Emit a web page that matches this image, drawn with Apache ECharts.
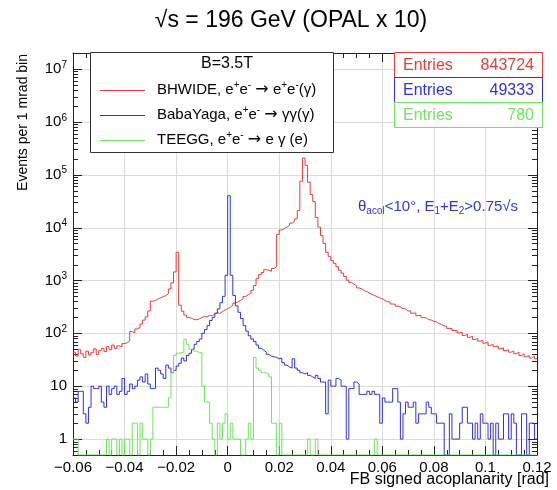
<!DOCTYPE html>
<html>
<head>
<meta charset="utf-8">
<script src="https://cdn.jsdelivr.net/npm/echarts@6/dist/echarts.min.js"></script>
<style>
  html, body { margin: 0; padding: 0; background: #fff; }
  #chart { width: 557px; height: 490px; }
</style>
</head>
<body>
<div id="chart"></div>
<script>
// Histogram binning: 1 mrad bins starting at -60 mrad
const BIN_LOW_MRAD = -60;
const BIN_WIDTH_MRAD = 1;

// BHWIDE, e+e- -> e+e-(gamma): events per bin, bins -60 .. 119 mrad
const bhwide = [
  44, 37, 49, 41, 35, 46, 39, 43, 51, 40,
  47, 52, 45, 56, 49, 60, 52, 58, 55, 64,
  66, 72, 108, 102, 121, 128, 150, 178, 205, 265,
  405, 418, 446, 470, 492, 515, 560, 690, 900, 1450,
  3400, 340, 262, 222, 200, 192, 184, 180, 188, 198,
  210, 204, 218, 214, 232, 244, 238, 258, 276, 292,
  310, 338, 372, 392, 418, 452, 498, 538, 580, 652,
  800, 1080, 1290, 1410, 1600, 1560, 1490, 1680, 1820, 7400,
  9000, 9600, 10200, 11000, 12100, 13200, 14600, 21000, 75000, 205000,
  150000, 72000, 42000, 31000, 15500, 10200, 7100, 5000, 3400, 2850,
  2380, 2100, 1820, 1560, 1380, 1190, 1010, 920, 850, 790,
  722, 695, 640, 615, 578, 545, 520, 492, 468, 452,
  420, 398, 392, 358, 356, 326, 316, 294, 288, 264,
  266, 240, 242, 216, 218, 198, 196, 182, 178, 168,
  164, 152, 148, 138, 136, 123, 124, 113, 112, 102,
  104, 91, 96, 84, 88, 76, 80, 71, 74, 65,
  69, 59, 62, 56, 57, 51, 53, 47, 49, 44,
  46, 41, 44, 38, 41, 36, 38, 34, 37, 33
];

// BabaYaga, e+e- -> gamma gamma(gamma)
const babayaga = [
  6, 5, 8, 8, 3, 2, 4, 10, 9, 9,
  10, 5, 4, 10, 7, 9, 10, 7, 8, 14,
  7, 8, 11, 9, 10, 13, 15, 12, 17, 11,
  9, 9, 22, 20, 17, 14, 25, 22, 18, 20,
  24, 27, 34, 30, 38, 42, 50, 62, 70, 78,
  100, 118, 140, 175, 200, 240, 290, 380, 500, 1250,
  40000, 1250, 520, 330, 250, 190, 140, 110, 90, 78,
  70, 60, 52, 48, 44, 40, 37, 36, 35, 33,
  34, 28, 25, 23, 22, 33, 22, 20, 18, 17,
  18, 16, 15, 14, 16, 14, 12, 12, 3, 13,
  10, 10, 14, 13, 10, 10, 1, 9, 9, 12,
  11, 7, 7, 7, 8, 7, 8, 7, 7, 2,
  6, 5, 5, 5, 9, 9, 5, 1, 3, 5,
  4, 4, 5, 2, 3, 3, 3, 5, 4, 3,
  3, 2, 2, 2, 0, 0, 3, 1, 1, 1,
  2, 4, 4, 2, 2, 1, 2, 1, 3, 2,
  2, 1, 2, 0, 2, 1, 1, 3, 3, 1,
  3, 2, 0, 0, 3, 3, 0, 2, 2, 1
];

// TEEGG, e+e- -> e gamma (e)
const teegg = [
  1, 1, 0, 0, 0, 0, 0, 0, 0, 0,
  0, 0, 0, 1, 0, 1, 1, 0, 1, 0,
  1, 1, 0, 2, 2, 0, 2, 1, 1, 0,
  1, 4, 4, 4, 4, 4, 4, 6, 18, 38,
  42, 43, 44, 77, 62, 50, 46, 46, 43, 43,
  10, 5, 5, 2, 1, 0, 2, 1, 2, 3,
  1, 2, 1, 1, 1, 0, 0, 1, 2, 1,
  35, 22, 20, 18, 18, 17, 15, 2, 2, 0,
  2, 0, 0, 0, 0, 0, 0, 0, 0, 0,
  0, 1, 0, 0, 1, 0, 0, 0, 0, 0,
  0, 0, 0, 0, 0, 0, 0, 0, 0, 0,
  0, 0, 0, 0, 0, 0, 0, 1, 0, 0,
  0, 0, 0, 0, 0, 0, 0, 0, 0, 0,
  0, 0, 0, 0, 0, 0, 0, 0, 0, 0,
  0, 0, 0, 0, 0, 0, 0, 0, 0, 0,
  0, 0, 0, 0, 0, 0, 0, 0, 0, 0,
  0, 0, 0, 0, 0, 0, 0, 0, 0, 0,
  0, 0, 0, 0, 0, 0, 0, 0, 0, 0
];

const seriesNames = ['BHWIDE', 'BabaYaga', 'TEEGG'];
const entries = [843724, 49333, 780];
const colors = ['#e63c38', '#3333d4', '#72e262'];

// Axis ranges and tick labels
const X_MIN = -0.06, X_MAX = 0.12, X_STEP = 0.02;
const Y_MIN = 0.5, Y_MAX = 2e7;
const yDecades = [1, 10, 1e2, 1e3, 1e4, 1e5, 1e6, 1e7];

const FONT = '"Liberation Sans", Arial, Helvetica, sans-serif';
const SYMBOL_FONT = '"DejaVu Sans", sans-serif';

// Turn bin contents into a step outline (lower bin edges + closing edge).
// Empty bins are drawn on the frame bottom, like a log-scale histogram.
function toSteps(counts) {
  const pts = counts.map((c, i) => [
    (BIN_LOW_MRAD + i * BIN_WIDTH_MRAD) / 1000,
    c > 0 ? c : Y_MIN
  ]);
  const last = counts[counts.length - 1];
  pts.push([(BIN_LOW_MRAD + counts.length * BIN_WIDTH_MRAD) / 1000, last > 0 ? last : Y_MIN]);
  return pts;
}

// Log-axis tick positions: decades (major) and 2..9 multiples (minor)
const yTickData = [];
for (let e = -1; e <= 7; e++) {
  for (let k = 1; k <= 9; k++) {
    const v = k * Math.pow(10, e);
    if (v >= Y_MIN && v <= Y_MAX) yTickData.push([X_MIN, v, k === 1 ? 1 : 0]);
  }
}

const chart = echarts.init(document.getElementById('chart'), null, { renderer: 'canvas' });

const histSeries = [bhwide, babayaga, teegg].map((counts, i) => ({
  name: seriesNames[i],
  type: 'line',
  step: 'end',
  data: toSteps(counts),
  symbol: 'none',
  showSymbol: false,
  clip: true,
  z: 3,
  lineStyle: { color: colors[i], width: 1 },
  itemStyle: { color: colors[i] },
  emphasis: { disabled: true }
}));

const crisp = v => Math.round(v) + 0.5;

const option = {
  animation: false,
  backgroundColor: '#fff',
  grid: { left: 73, right: 20, top: 53, bottom: 35, containLabel: false, outerBoundsMode: 'none' },
  xAxis: [{
    type: 'value', min: X_MIN, max: X_MAX, interval: X_STEP, position: 'bottom',
    axisLine: { show: true, onZero: false, lineStyle: { color: '#222', width: 1 } },
    axisTick: { show: true, inside: true, length: 9, lineStyle: { color: '#222' } },
    minorTick: { show: true, splitNumber: 4, length: 5, lineStyle: { color: '#222' } },
    splitLine: { show: true, lineStyle: { color: '#dcdcdc', width: 1 } },
    axisLabel: {
      color: '#000', fontSize: 15, fontFamily: FONT, margin: 5,
      formatter: v => { const r = Math.round(v * 100) / 100; return r < 0 ? '\u2212' + (-r) : String(r); }
    }
  }, {
    type: 'value', min: X_MIN, max: X_MAX, interval: X_STEP, position: 'top',
    axisLine: { show: true, onZero: false, lineStyle: { color: '#222', width: 1 } },
    axisTick: { show: true, inside: true, length: 9, lineStyle: { color: '#222' } },
    minorTick: { show: true, splitNumber: 4, length: 5, lineStyle: { color: '#222' } },
    splitLine: { show: false },
    axisLabel: { show: false }
  }],
  yAxis: [{
    type: 'log', logBase: 10, min: Y_MIN, max: Y_MAX, position: 'left',
    axisLine: { show: true, onZero: false, lineStyle: { color: '#222', width: 1 } },
    axisTick: { show: false },
    minorTick: { show: false },
    splitLine: { show: false },
    axisLabel: {
      customValues: yDecades,
      margin: 6,
      color: '#000', fontFamily: FONT, fontSize: 15,
      formatter: v => {
        const e = Math.round(Math.log10(v));
        if (e === 0) return '{b|1}';
        if (e === 1) return '{b|10}';
        return '{b|10}{s|' + e + '}';
      },
      rich: {
        b: { fontSize: 15, lineHeight: 18, fontFamily: FONT, color: '#000' },
        s: { fontSize: 10, lineHeight: 10, verticalAlign: 'top', fontFamily: FONT, color: '#000' }
      }
    }
  }, {
    type: 'log', logBase: 10, min: Y_MIN, max: Y_MAX, position: 'right',
    axisLine: { show: true, onZero: false, lineStyle: { color: '#222', width: 1 } },
    axisTick: { show: false }, minorTick: { show: false },
    splitLine: { show: false }, axisLabel: { show: false }
  }],
  series: [{
    type: 'custom',
    name: 'yTicks',
    xAxisIndex: 0, yAxisIndex: 0,
    silent: true, z: 1,
    data: yTickData,
    encode: { x: 0, y: 1 },
    renderItem: (params, api) => {
      const v = api.value(1);
      const major = api.value(2) === 1;
      const a = api.coord([X_MIN, v]);
      const b = api.coord([X_MAX, v]);
      const y = crisp(a[1]);
      const len = major ? 9 : 5;
      const children = [];
      if (major) {
        children.push({ type: 'line', shape: { x1: a[0], y1: y, x2: b[0], y2: y },
          style: { stroke: '#dcdcdc', lineWidth: 1 } });
      }
      children.push({ type: 'line', shape: { x1: a[0], y1: y, x2: a[0] + len, y2: y },
        style: { stroke: '#222', lineWidth: 1 } });
      children.push({ type: 'line', shape: { x1: b[0] - len, y1: y, x2: b[0], y2: y },
        style: { stroke: '#222', lineWidth: 1 } });
      return { type: 'group', children };
    }
  }].concat(histSeries),
  graphic: []
};

// Text helper for the graphic layer
function txt(x, y, text, opts) {
  opts = opts || {};
  return {
    type: 'text', x, y, z: 110, silent: true, rotation: opts.rotation || 0,
    style: Object.assign({
      text,
      font: (opts.size || 15) + 'px ' + FONT,
      fill: opts.color || '#000',
      textAlign: opts.align || 'left', align: opts.align || 'left',
      textVerticalAlign: 'middle', verticalAlign: 'middle'
    }, opts.rich ? { rich: opts.rich } : {})
  };
}

// Rich styles: t = normal, u = superscript, d = subscript, a = arrow symbol
const supRich = (size, color) => ({
  t: { fontSize: size, lineHeight: size + 4, fontFamily: FONT, fill: color },
  u: { fontSize: Math.round(size * 0.65), lineHeight: Math.round(size * 0.65), verticalAlign: 'top', fontFamily: FONT, fill: color },
  d: { fontSize: Math.round(size * 0.65), lineHeight: Math.round(size * 0.65), verticalAlign: 'bottom', fontFamily: FONT, fill: color },
  a: { fontSize: size + 1, lineHeight: size + 4, fontFamily: SYMBOL_FONT, fill: color }
});

const g = option.graphic;

// Title and axis titles
g.push(txt(291, 21, '\u221As = 196 GeV (OPAL x 10)', { size: 23, align: 'center' }));
g.push(txt(23, 54, 'Events per 1 mrad bin', { size: 14, align: 'right', rotation: Math.PI / 2 }));
g.push(txt(549, 480, 'FB signed acoplanarity [rad]', { size: 16, align: 'right' }));

// Selection cuts note
g.push(txt(358, 207, '{t|\u03B8}{d|acol}{t|<10\u00B0, E}{d|1}{t|+E}{d|2}{t|>0.75\u221As}',
  { size: 15, color: colors[1], rich: supRich(15, colors[1]) }));

// Legend box
g.push({ type: 'rect', z: 100, silent: true,
  shape: { x: 90.5, y: 52.5, width: 243, height: 100 },
  style: { fill: '#fff', stroke: '#333', lineWidth: 1 } });
g.push(txt(227, 64, 'B=3.5T', { size: 16, align: 'center' }));
const legendText = [
  '{t|BHWIDE, e}{u|+}{t|e}{u|-}{t| }{a|\u2192}{t| e}{u|+}{t|e}{u|-}{t|(\u03B3)}',
  '{t|BabaYaga, e}{u|+}{t|e}{u|-}{t| }{a|\u2192}{t| \u03B3\u03B3(\u03B3)}',
  '{t|TEEGG, e}{u|+}{t|e}{u|-}{t| }{a|\u2192}{t| e \u03B3 (e)}'
];
const legendRowY = [90, 115, 140];
legendText.forEach((t, i) => {
  g.push({ type: 'line', z: 105, silent: true,
    shape: { x1: 100, y1: legendRowY[i] + 0.5, x2: 145, y2: legendRowY[i] + 0.5 },
    style: { stroke: colors[i], lineWidth: 1 } });
  g.push(txt(157, legendRowY[i], t, { size: 15, rich: supRich(15, '#000') }));
});

// Entries boxes, one per histogram
entries.forEach((n, i) => {
  const top = 52.5 + i * 25;
  g.push({ type: 'rect', z: 100 + i, silent: true,
    shape: { x: 394.5, y: top, width: 148, height: 25 },
    style: { fill: '#fff', stroke: colors[i], lineWidth: 1 } });
  g.push(txt(403, top + 13, 'Entries', { size: 16, color: colors[i] }));
  g.push(txt(534, top + 13, String(n), { size: 16, color: colors[i], align: 'right' }));
});

chart.setOption(option);
</script>
</body>
</html>
